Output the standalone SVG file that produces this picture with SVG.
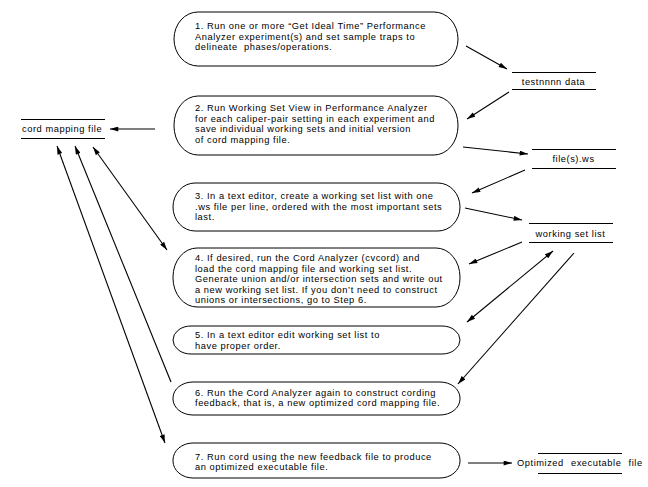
<svg xmlns="http://www.w3.org/2000/svg" width="648" height="487" viewBox="0 0 648 487">
<style>
text { font-family: "Liberation Sans", Arial, sans-serif; font-size: 9.3px; letter-spacing: 0.55px; fill: #000; white-space: pre; }
.node { fill: #fff; stroke: #000; stroke-width: 1; }
.store { stroke: #000; stroke-width: 1; }
.conn { fill: none; stroke: #000; stroke-width: 1.1; }
</style>
<defs>
<marker id="arr" viewBox="0 0 10 6" refX="10" refY="3" markerWidth="9" markerHeight="5" markerUnits="userSpaceOnUse" orient="auto-start-reverse">
<path d="M0,0 L10,3 L0,6 z" fill="#000"/>
</marker>
</defs>
<rect width="648" height="487" fill="#fff"/>

<g id="node1">
<rect class="node" x="174" y="12" width="284" height="54" rx="24" ry="27"/>
<text x="195" y="29">1. Run one or more “Get Ideal Time” Performance</text>
<text x="195" y="39.5">Analyzer experiment(s) and set sample traps to</text>
<text x="195" y="50">delineate  phases/operations.</text>
</g>
<g id="node2">
<rect class="node" x="174" y="96" width="284" height="59" rx="24" ry="29"/>
<text x="195" y="111">2. Run Working Set View in Performance Analyzer</text>
<text x="195" y="121.5">for each caliper-pair setting in each experiment and</text>
<text x="195" y="132">save individual working sets and initial version</text>
<text x="195" y="142.5">of cord mapping file.</text>
</g>
<g id="node3">
<rect class="node" x="173" y="183" width="287" height="48" rx="22" ry="24"/>
<text x="195" y="199">3. In a text editor, create a working set list with one</text>
<text x="195" y="209.5">.ws file per line, ordered with the most important sets</text>
<text x="195" y="220">last.</text>
</g>
<g id="node4">
<rect class="node" x="173" y="248" width="287" height="59" rx="24" ry="29"/>
<text x="195" y="261">4. If desired, run the Cord Analyzer (cvcord) and</text>
<text x="195" y="271.5">load the cord mapping file and working set list.</text>
<text x="195" y="282">Generate union and/or intersection sets and write out</text>
<text x="195" y="292.5">a new working set list. If you don’t need to construct</text>
<text x="195" y="303">unions or intersections, go to Step 6.</text>
</g>
<g id="node5">
<rect class="node" x="173" y="326" width="287" height="28" rx="18" ry="14"/>
<text x="195" y="338">5. In a text editor edit working set list to</text>
<text x="195" y="348.5">have proper order.</text>
</g>
<g id="node6">
<rect class="node" x="173" y="382" width="287" height="33" rx="20" ry="16"/>
<text x="195" y="395.5">6. Run the Cord Analyzer again to construct cording</text>
<text x="195" y="406">feedback, that is, a new optimized cord mapping file.</text>
</g>
<g id="node7">
<rect class="node" x="173" y="443" width="287" height="35" rx="20" ry="17"/>
<text x="195" y="459.5">7. Run cord using the new feedback file to produce</text>
<text x="195" y="470">an optimized executable file.</text>
</g>

<g id="store-testnnnn">
<line class="store" x1="512" y1="72.5" x2="596" y2="72.5"/>
<line class="store" x1="512" y1="89.5" x2="596" y2="89.5"/>
<text x="553.5" y="85" text-anchor="middle">testnnnn data</text>
</g>
<g id="store-ws">
<line class="store" x1="532" y1="149.5" x2="616" y2="149.5"/>
<line class="store" x1="532" y1="168.5" x2="616" y2="168.5"/>
<text x="573.5" y="162" text-anchor="middle">file(s).ws</text>
</g>
<g id="store-wsl">
<line class="store" x1="529" y1="223.5" x2="613" y2="223.5"/>
<line class="store" x1="529" y1="242.5" x2="613" y2="242.5"/>
<text x="570.5" y="237" text-anchor="middle">working set list</text>
</g>
<g id="store-cmf">
<line class="store" x1="21" y1="119.5" x2="105" y2="119.5"/>
<line class="store" x1="21" y1="138.5" x2="105" y2="138.5"/>
<text x="22" y="132">cord mapping file</text>
</g>
<g id="store-exe">
<line class="store" x1="538" y1="453.5" x2="622" y2="453.5"/>
<line class="store" x1="538" y1="473.5" x2="622" y2="473.5"/>
<text x="517" y="466" word-spacing="4">Optimized executable file</text>
</g>

<g id="connectors">
<line class="conn" x1="466" y1="46" x2="507" y2="69" marker-end="url(#arr)"/>
<line class="conn" x1="509" y1="92" x2="467" y2="119" marker-end="url(#arr)"/>
<line class="conn" x1="463" y1="147" x2="528" y2="154" marker-end="url(#arr)"/>
<line class="conn" x1="525" y1="170" x2="472" y2="193" marker-end="url(#arr)"/>
<line class="conn" x1="465" y1="208" x2="522" y2="220" marker-end="url(#arr)"/>
<line class="conn" x1="522" y1="242" x2="469" y2="264" marker-end="url(#arr)"/>
<line class="conn" x1="553" y1="251" x2="467" y2="322" marker-start="url(#arr)" marker-end="url(#arr)"/>
<line class="conn" x1="574" y1="253" x2="458" y2="384" marker-end="url(#arr)"/>
<line class="conn" x1="155" y1="129" x2="110" y2="129" marker-end="url(#arr)"/>
<line class="conn" x1="93" y1="147" x2="167" y2="250" marker-start="url(#arr)" marker-end="url(#arr)"/>
<line class="conn" x1="171" y1="382" x2="75" y2="146" marker-end="url(#arr)"/>
<line class="conn" x1="57" y1="146" x2="165" y2="443" marker-start="url(#arr)" marker-end="url(#arr)"/>
<line class="conn" x1="468" y1="463" x2="512" y2="463" marker-end="url(#arr)"/>
</g>
</svg>
